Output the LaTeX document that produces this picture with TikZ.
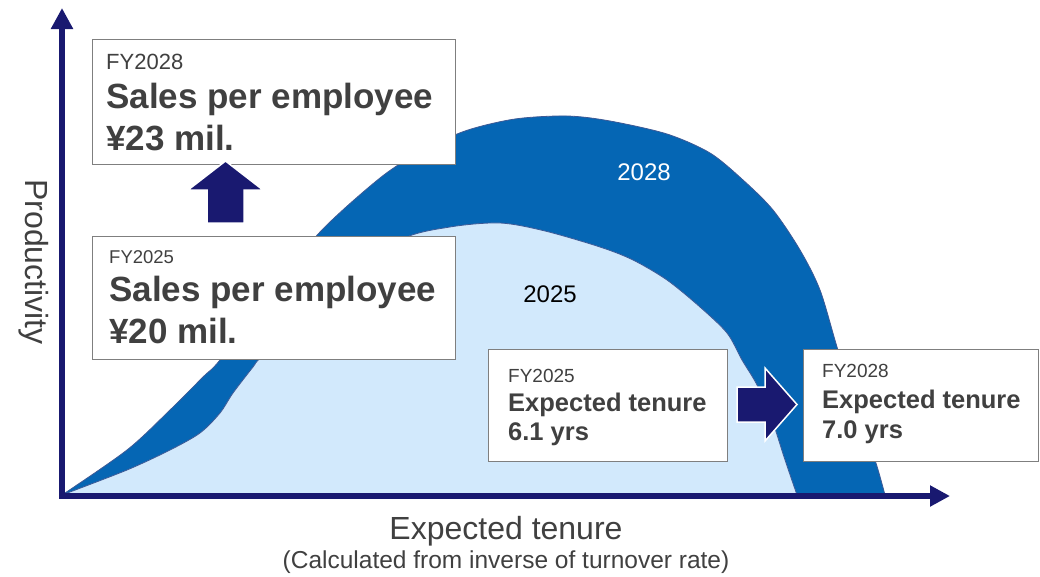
\documentclass[tikz,border=0pt]{standalone}
\usepackage{fontspec}
\setmainfont{Liberation Sans}
\usetikzlibrary{arrows.meta}
\definecolor{axisblue}{HTML}{191970}
\definecolor{band}{HTML}{0566B4}
\definecolor{pale}{HTML}{D2E9FC}
\definecolor{edge}{HTML}{3D5A96}
\definecolor{ink}{HTML}{404040}
\definecolor{frame}{HTML}{7F7F7F}
\begin{document}
\begin{tikzpicture}[x=1pt,y=-1pt,
  box/.style={draw=frame, line width=1pt, fill=white, rectangle, inner sep=0pt, anchor=north west},
  txt/.style={anchor=base west, inner sep=0pt, text=ink, font=\fontsize{#1}{#1}\selectfont},
  btxt/.style={anchor=base west, inner sep=0pt, text=ink, font=\fontsize{#1}{#1}\selectfont\bfseries},
  curve/.style={draw=edge, line width=0.8pt},
  blockarrow/.style={fill=axisblue, draw=white, line width=1.5pt, line join=miter},
  axis/.style={draw=axisblue, line width=6pt, line join=miter}
]
\useasboundingbox (0,0) rectangle (1040,576);

% productivity curves
\filldraw[curve, fill=band] plot[smooth] coordinates {
  (62,495) (127,450) (170,410) (203,377) (220,360) (270,295) (320,232) (380,178)
  (420,152) (465,131) (515,119) (567,116) (610,121) (667,134) (710,153) (743,180)
  (773,210) (800,250) (820,290) (837,347) (858,415) (875,460) (885,495)} -- cycle;
\filldraw[curve, fill=pale] plot[smooth] coordinates {
  (62,495) (127,470) (170,450) (200,433) (220,413) (233,393) (253,367) (263,355)
  (330,288) (400,240) (450,227) (500,223) (545,231) (600,247) (633,260) (667,280)
  (700,307) (727,333) (742,360) (757,385) (772,420) (785,460) (797,495)} -- cycle;

\node[anchor=base, inner sep=0pt, text=white, font=\fontsize{24}{24}\selectfont] (y28) at (644,180) {2028};
\node[anchor=base, inner sep=0pt, text=black, font=\fontsize{24}{24}\selectfont] (y25) at (550,302) {2025};

% axes
\coordinate (ytop) at (62,8);
\coordinate (O) at (62,496);
\coordinate (xend) at (950,496);
\draw[axis, {Triangle[length=21pt,width=21pt]}-{Triangle[length=20pt,width=20pt]}] (ytop) -- (O) -- (xend);

\node[anchor=base, inner sep=0pt, text=ink, rotate=-90, font=\fontsize{32}{32}\selectfont] (ylab) at (25,262) {Productivity};
\node[anchor=base, inner sep=0pt, text=ink, font=\fontsize{32}{32}\selectfont] (xlab) at (506,539) {Expected tenure};
\node[anchor=base, inner sep=0pt, text=ink, font=\fontsize{24.5}{24.5}\selectfont] (xsub) at (506,568) {(Calculated from inverse of turnover rate)};

% sales boxes
\node[box, minimum width=363pt, minimum height=125pt] (sales28) at (92,39) {};
\node[txt=22] (s28a) at (106,69) {FY2028};
\node[btxt=35] (s28b) at (106,108) {Sales per employee};
\node[btxt=35] (s28c) at (106,150) {¥23 mil.};

\node[box, minimum width=363pt, minimum height=123pt] (sales25) at (92,236) {};
\node[txt=18.5] (s25a) at (109,263) {FY2025};
\node[btxt=35] (s25b) at (109,301) {Sales per employee};
\node[btxt=35] (s25c) at (109,343) {¥20 mil.};

% tenure boxes
\node[box, minimum width=239pt, minimum height=112pt] (ten25) at (488,349) {};
\node[txt=19] (t25a) at (508,382) {FY2025};
\node[btxt=25.5] (t25b) at (508,411) {Expected tenure};
\node[btxt=25.5] (t25c) at (508,440) {6.1 yrs};

\node[box, minimum width=235pt, minimum height=112pt] (ten28) at (803,349) {};
\node[txt=19] (t28a) at (822,377) {FY2028};
\node[btxt=25.5] (t28b) at (822,408) {Expected tenure};
\node[btxt=25.5] (t28c) at (822,438) {7.0 yrs};

% block arrows
\filldraw[blockarrow] (207,223) -- (207,190) -- (188,190) -- (225.5,161) -- (263,190)
  -- (244,190) -- (244,223) -- cycle;
\filldraw[blockarrow] (737,387) -- (765,387) -- (765,368) -- (797,404.5) -- (765,441)
  -- (765,422) -- (737,422) -- cycle;
\end{tikzpicture}
\end{document}
